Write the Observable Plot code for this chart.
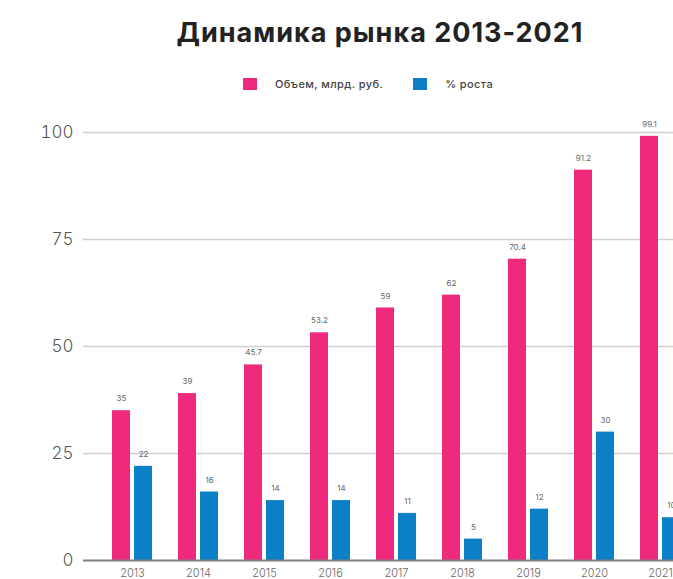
<!DOCTYPE html>
<html>
<head>
<meta charset="utf-8">
<script src="https://cdn.jsdelivr.net/npm/d3@7"></script>
<script src="https://cdn.jsdelivr.net/npm/@observablehq/plot@0.6"></script>
<style>
  html, body { margin: 0; padding: 0; background: #fff; overflow: hidden; width: 673px; height: 579px; }
  #wrap { position: relative; width: 673px; height: 579px; overflow: hidden; font-family: Inter, "Open Sans", sans-serif; }
  #title { position: absolute; left: 0; top: 16px; width: 760px; text-align: center; font-size: 27px; font-weight: 700; color: #222; letter-spacing: 1px; white-space: nowrap; }
  #legend { position: absolute; left: 243px; top: 77px; display: flex; align-items: center; font-size: 11px; font-weight: 500; color: #444; letter-spacing: 0.4px; white-space: nowrap; }
  .sw { width: 14px; height: 12px; display: inline-block; margin-right: 18px; }
  .item { display: flex; align-items: center; margin-right: 30px; }
  #chart { position: absolute; left: 0; top: 100px; width: 760px; }
  #chart svg { max-width: none !important; }
</style>
</head>
<body>
<div id="wrap">
  <div id="title">Динамика рынка 2013-2021</div>
  <div id="legend"></div>
  <div id="chart"></div>
</div>
<script>
const years = ["2013", "2014", "2015", "2016", "2017", "2018", "2019", "2020", "2021"];
const volume = [35, 39, 45.7, 53.2, 59, 62, 70.4, 91.2, 99.1];
const growth = [22, 16, 14, 14, 11, 5, 12, 30, 10];
const yTicks = [0, 25, 50, 75, 100];
const seriesNames = ["Объем, млрд. руб.", "% роста"];
const colors = ["#ef2a7c", "#0b80c6"];

const legend = document.getElementById("legend");
seriesNames.forEach((name, i) => {
  const it = document.createElement("div");
  it.className = "item";
  const sw = document.createElement("span");
  sw.className = "sw";
  sw.style.background = colors[i];
  it.appendChild(sw);
  it.appendChild(document.createTextNode(name));
  legend.appendChild(it);
});

const volData = years.map((y, i) => ({year: y, v: volume[i]}));
const grData = years.map((y, i) => ({year: y, v: growth[i]}));
const fmt = v => String(v);

const chart = Plot.plot({
  width: 729,
  height: 490,
  marginLeft: 83,
  marginRight: 20,
  marginTop: 32,
  marginBottom: 30,
  style: {fontFamily: "Inter, 'Open Sans', sans-serif", background: "transparent", maxWidth: "none"},
  x: {domain: years, padding: 0.4, label: null, tickSize: 0, tickPadding: 9},
  y: {domain: [0, 100], ticks: yTicks, label: null, tickSize: 0, tickPadding: 10},
  marks: [
    Plot.ruleY(yTicks.filter(d => d > 0), {stroke: "#cfcfcf", strokeWidth: 1.5}),
    Plot.barY(volData, {x: "year", y: "v", fill: colors[0], insetRight: 22}),
    Plot.barY(grData, {x: "year", y: "v", fill: colors[1], insetLeft: 22}),
    Plot.ruleY([0], {stroke: "#808080", strokeWidth: 2}),
    Plot.text(volData, {x: "year", y: "v", text: d => fmt(d.v), dx: -11, dy: -12, fontSize: 8, fill: "#666"}),
    Plot.text(grData, {x: "year", y: "v", text: d => fmt(d.v), dx: 11, dy: -12, fontSize: 8, fill: "#666"}),
    Plot.axisY({ticks: yTicks, tickSize: 0, tickPadding: 10, fontSize: 17, fontWeight: 300, fill: "#555", label: null}),
    Plot.axisX({tickSize: 0, tickPadding: 9, fontSize: 11, fontWeight: 300, fill: "#666", label: null})
  ]
});
chart.style.maxWidth = "none";
document.getElementById("chart").appendChild(chart);
</script>
</body>
</html>
